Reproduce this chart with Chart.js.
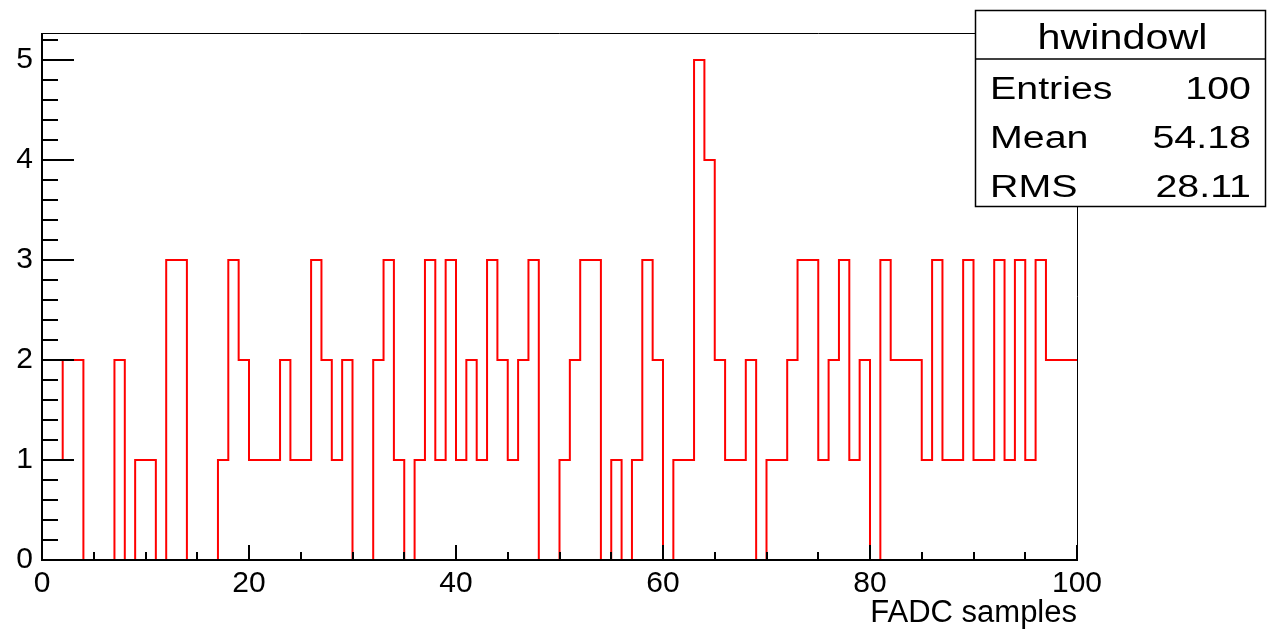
<!DOCTYPE html>
<html>
<head>
<meta charset="utf-8">
<script src="https://cdn.jsdelivr.net/npm/chart.js@4.4.1/dist/chart.umd.min.js"></script>
<style>
html,body{margin:0;padding:0;background:#fff;}
#wrap{width:1267px;height:633px;}
canvas{display:block;}
</style>
</head>
<body>
<div id="wrap"><canvas id="c" width="1267" height="633"></canvas></div>
<script>
// ---- data ----
const histTitle = 'hwindowl';
const xAxisTitle = 'FADC samples';
const binLowEdges = Array.from({length: 100}, (_, i) => i); // bin low edges 0..99, width 1
const binUpperEdge = 100;
const binValues = [
  1,1,2,2,0,0,0,2,0,1,
  1,0,3,3,0,0,0,1,3,2,
  1,1,1,2,1,1,3,2,1,2,
  0,0,2,3,1,0,1,3,1,3,
  1,2,1,3,2,1,2,3,0,0,
  1,2,3,3,0,1,0,1,3,2,
  0,1,1,5,4,2,1,1,2,0,
  1,1,2,3,3,1,2,3,1,2,
  0,3,2,2,2,1,3,1,1,3,
  1,1,3,1,3,1,3,2,2,2
];
const xTickValues = [0, 20, 40, 60, 80, 100];
const yTickValues = [0, 1, 2, 3, 4, 5];
const statsLabels = ['Entries', 'Mean', 'RMS'];
const statsValues = ['100', '54.18', '28.11'];

// ---- build step points ----
const points = binLowEdges.map((x, i) => ({x: x, y: binValues[i]}));
points.push({x: binUpperEdge, y: binValues[binValues.length - 1]});

const FONT = "'Liberation Sans', Arial, Helvetica, sans-serif";

function stretchText(ctx, text, x, y, sx, align) {
  ctx.save();
  ctx.translate(x, y);
  ctx.scale(sx, 1);
  ctx.textAlign = align;
  ctx.fillText(text, 0, 0);
  ctx.restore();
}

const rootPlugin = {
  id: 'rootStyle',
  beforeDraw(chart) {
    const ctx = chart.ctx;
    ctx.save();
    ctx.fillStyle = '#fff';
    ctx.fillRect(0, 0, chart.width, chart.height);
    ctx.restore();
  },
  afterDraw(chart) {
    const ctx = chart.ctx;
    const xs = chart.scales.x, ys = chart.scales.y;
    const a = chart.chartArea;
    ctx.save();
    ctx.strokeStyle = '#000';
    // frame top/right
    ctx.lineWidth = 1;
    ctx.beginPath();
    ctx.moveTo(a.left, a.top + 0.5); ctx.lineTo(a.right + 0.5, a.top + 0.5);
    ctx.lineTo(a.right + 0.5, a.bottom);
    ctx.stroke();
    // axes
    ctx.lineWidth = 2;
    ctx.beginPath();
    ctx.moveTo(a.left, a.top); ctx.lineTo(a.left, a.bottom);
    ctx.lineTo(a.right + 1, a.bottom);
    ctx.stroke();
    // x ticks (inside, pointing up)
    ctx.beginPath();
    for (let v = xs.min; v <= xs.max + 1e-9; v += 5) {
      const px = Math.round(xs.getPixelForValue(v));
      const len = (Math.abs(v % 20) < 1e-9) ? 15 : 8;
      ctx.moveTo(px, a.bottom); ctx.lineTo(px, a.bottom - len);
    }
    ctx.stroke();
    // y ticks (inside, pointing right)
    ctx.beginPath();
    for (let k = 0; k <= 26; k++) {
      const v = k * 0.2;
      if (v > ys.max) break;
      const py = Math.round(ys.getPixelForValue(v));
      const len = (k % 5 === 0) ? 32 : 16;
      ctx.moveTo(a.left, py); ctx.lineTo(a.left + len, py);
    }
    ctx.stroke();

    // stats box
    const bx = 975, by = 10, bw = 291, bh = 196, sep = 59;
    ctx.fillStyle = '#fff';
    ctx.fillRect(bx, by, bw, bh);
    ctx.lineWidth = 1.5;
    ctx.strokeRect(bx + 0.5, by + 0.5, bw - 1, bh);
    ctx.beginPath();
    ctx.moveTo(bx, sep); ctx.lineTo(bx + bw, sep);
    ctx.stroke();
    ctx.fillStyle = '#000';
    ctx.textBaseline = 'alphabetic';
    ctx.font = '35px ' + FONT;
    stretchText(ctx, histTitle, bx + bw / 2 + 2, 49, 1.18, 'center');
    ctx.font = '31px ' + FONT;
    const baselines = [99, 148, 197];
    statsLabels.forEach((lab, i) => {
      stretchText(ctx, lab, 990, baselines[i], 1.27, 'left');
      stretchText(ctx, statsValues[i], 1251, baselines[i], 1.27, 'right');
    });
    ctx.restore();
  }
};

new Chart(document.getElementById('c'), {
  type: 'line',
  data: {
    datasets: [{
      label: histTitle,
      data: points,
      stepped: 'before',
      borderColor: '#ff0000',
      borderWidth: 2,
      pointRadius: 0,
      fill: false,
      tension: 0
    }]
  },
  options: {
    responsive: false,
    animation: false,
    devicePixelRatio: 1,
    layout: {padding: {top: 33, right: 190, left: 0, bottom: 0}},
    plugins: {legend: {display: false}, tooltip: {enabled: false}},
    scales: {
      x: {
        type: 'linear',
        min: 0, max: 100,
        afterBuildTicks: (s) => { s.ticks = xTickValues.map(v => ({value: v})); },
        afterFit: (s) => { s.height = 73; },
        grid: {display: false, drawTicks: false},
        border: {display: false},
        ticks: {
          maxRotation: 0, autoSkip: false, padding: 6, color: '#000',
          font: {family: FONT, size: 30}
        },
        title: {
          display: true, text: xAxisTitle, align: 'end', color: '#000',
          font: {family: FONT, size: 31}, padding: {top: 0, bottom: 1}
        }
      },
      y: {
        type: 'linear',
        min: 0, max: 5.27,
        afterBuildTicks: (s) => { s.ticks = yTickValues.map(v => ({value: v})); },
        afterFit: (s) => { s.width = 42; },
        grid: {display: false, drawTicks: false},
        border: {display: false},
        ticks: {
          autoSkip: false, padding: 9, color: '#000',
          font: {family: FONT, size: 30}
        }
      }
    }
  },
  plugins: [rootPlugin]
});
</script>
</body>
</html>
